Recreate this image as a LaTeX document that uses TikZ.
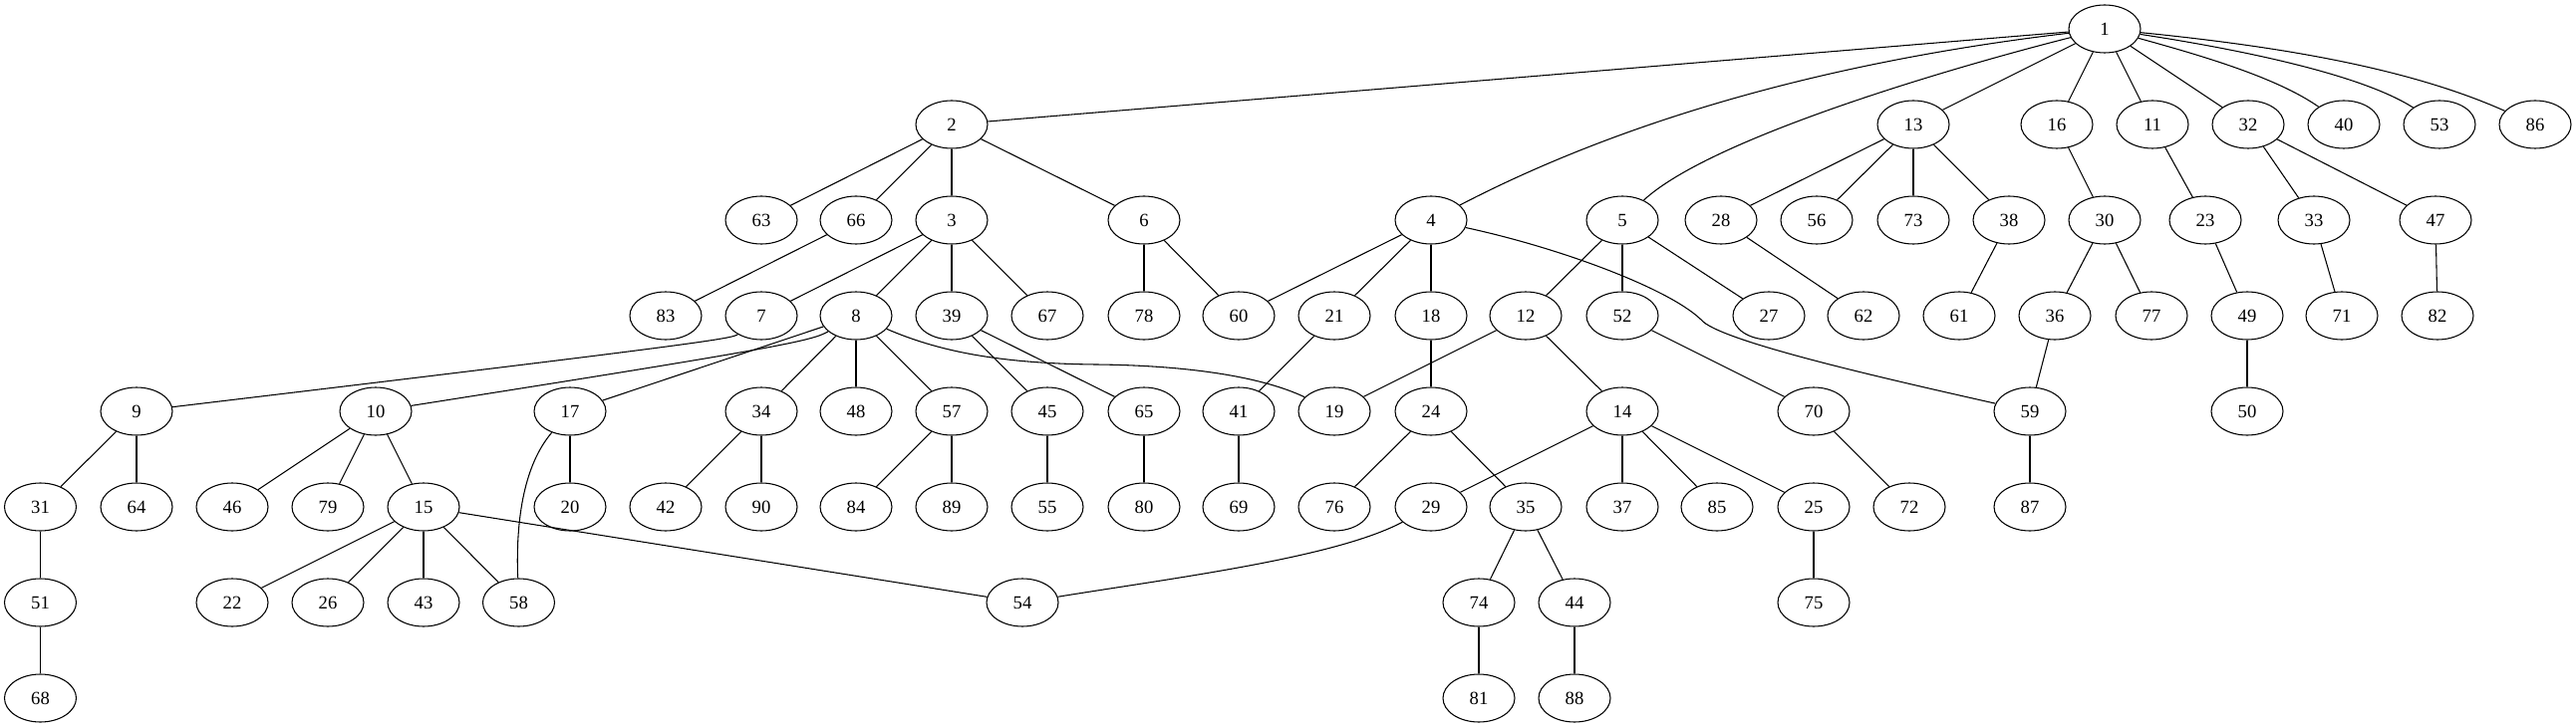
\documentclass[tikz,border=0pt]{standalone}
\usepackage{fontspec}
\setmainfont{Liberation Serif}
\usetikzlibrary{shapes.geometric}
\begin{document}
\begin{tikzpicture}[x=0.75pt,y=-0.75pt,
 vtx/.style={ellipse,draw,line width=0.8pt,minimum width=54pt,minimum height=36pt,inner sep=0pt,font=\fontsize{14}{16}\selectfont},
 lnk/.style={line width=0.8pt}]
\useasboundingbox (0,0) rectangle (2585,731);
% rank 0
\node[vtx] (n1) at (2112,29) {1};
% rank 1
\foreach \n/\x in {2/955,13/1920,16/2064,11/2160,32/2256,40/2352,53/2448,86/2544}
  \node[vtx] (n\n) at (\x,125) {\n};
% rank 2
\foreach \n/\x in {63/764,66/859,3/955,6/1148,4/1436,5/1628,28/1727,56/1823,73/1920,38/2016,30/2112,23/2213,33/2322,47/2444}
  \node[vtx] (n\n) at (\x,221) {\n};
% rank 3
\foreach \n/\x in {83/668,7/764,8/859,39/955,67/1051,78/1148,60/1243,21/1339,18/1436,12/1531,52/1628,27/1775,62/1870,61/1966,36/2062,77/2159,49/2255,71/2350,82/2446}
  \node[vtx] (n\n) at (\x,317) {\n};
% rank 4
\foreach \n/\x in {9/137,10/377,17/572,34/764,48/859,57/955,45/1051,65/1148,41/1243,19/1339,24/1436,14/1628,70/1820,59/2037,50/2255}
  \node[vtx] (n\n) at (\x,413) {\n};
% rank 5
\foreach \n/\x in {31/40.5,64/137,46/233,79/329,15/425,20/572,42/668,90/764,84/859,89/955,55/1051,80/1148,69/1243,76/1339,29/1436,35/1531,37/1628,85/1723,25/1820,72/1916,87/2037}
  \node[vtx] (n\n) at (\x,509) {\n};
% rank 6
\foreach \n/\x in {51/40.5,22/233,26/329,43/425,58/520.5,54/1026,74/1484,44/1580,75/1820}
  \node[vtx] (n\n) at (\x,605) {\n};
% rank 7
\foreach \n/\x in {68/40.5,81/1484,88/1580}
  \node[vtx] (n\n) at (\x,701) {\n};

% straight edges
\foreach \a/\b in {1/2,1/13,1/16,1/11,1/32,
  2/63,2/66,2/3,2/6,66/83,3/7,3/8,3/39,3/67,6/78,6/60,
  4/60,4/21,4/18,5/12,5/52,5/27,13/28,13/56,13/73,13/38,28/62,38/61,
  16/30,30/36,30/77,36/59,11/23,23/49,49/50,32/33,32/47,33/71,47/82,
  8/17,8/34,8/48,8/57,39/45,39/65,21/41,18/24,12/19,12/14,52/70,
  9/31,9/64,10/46,10/79,10/15,17/20,34/42,34/90,57/84,57/89,45/55,65/80,41/69,
  24/76,24/35,14/29,14/37,14/85,14/25,70/72,59/87,31/51,51/68,
  15/22,15/26,15/43,15/58,15/54,35/74,35/44,25/75,74/81,44/88}
  \draw[lnk] (n\a) -- (n\b);

% curved edges
\draw[lnk] (n1) .. controls (1850,60) and (1640,115) .. (n4);
\draw[lnk] (n1) .. controls (1950,70) and (1715,140) .. (n5);
\draw[lnk] (n1) .. controls (2210,56) and (2285,78) .. (n40);
\draw[lnk] (n1) .. controls (2250,50) and (2370,75) .. (n53);
\draw[lnk] (n1) .. controls (2270,45) and (2410,65) .. (n86);
\draw[lnk] (n4) .. controls (1570,250) and (1680,292) .. (1709,323)
               .. controls (1735,345) and (1900,382) .. (n59);
\draw[lnk] (n8) .. controls (940,352) and (1000,365) .. (1100,366)
               .. controls (1200,367) and (1270,380) .. (n19);
\draw[lnk] (n7) .. controls (735,340) and (705,345) .. (n9);
\draw[lnk] (n8) .. controls (815,342) and (790,348) .. (n10);
\draw[lnk] (n17) .. controls (530,462) and (517,510) .. (n58);
\draw[lnk] (n29) .. controls (1340,560) and (1180,580) .. (n54);
\end{tikzpicture}
\end{document}
